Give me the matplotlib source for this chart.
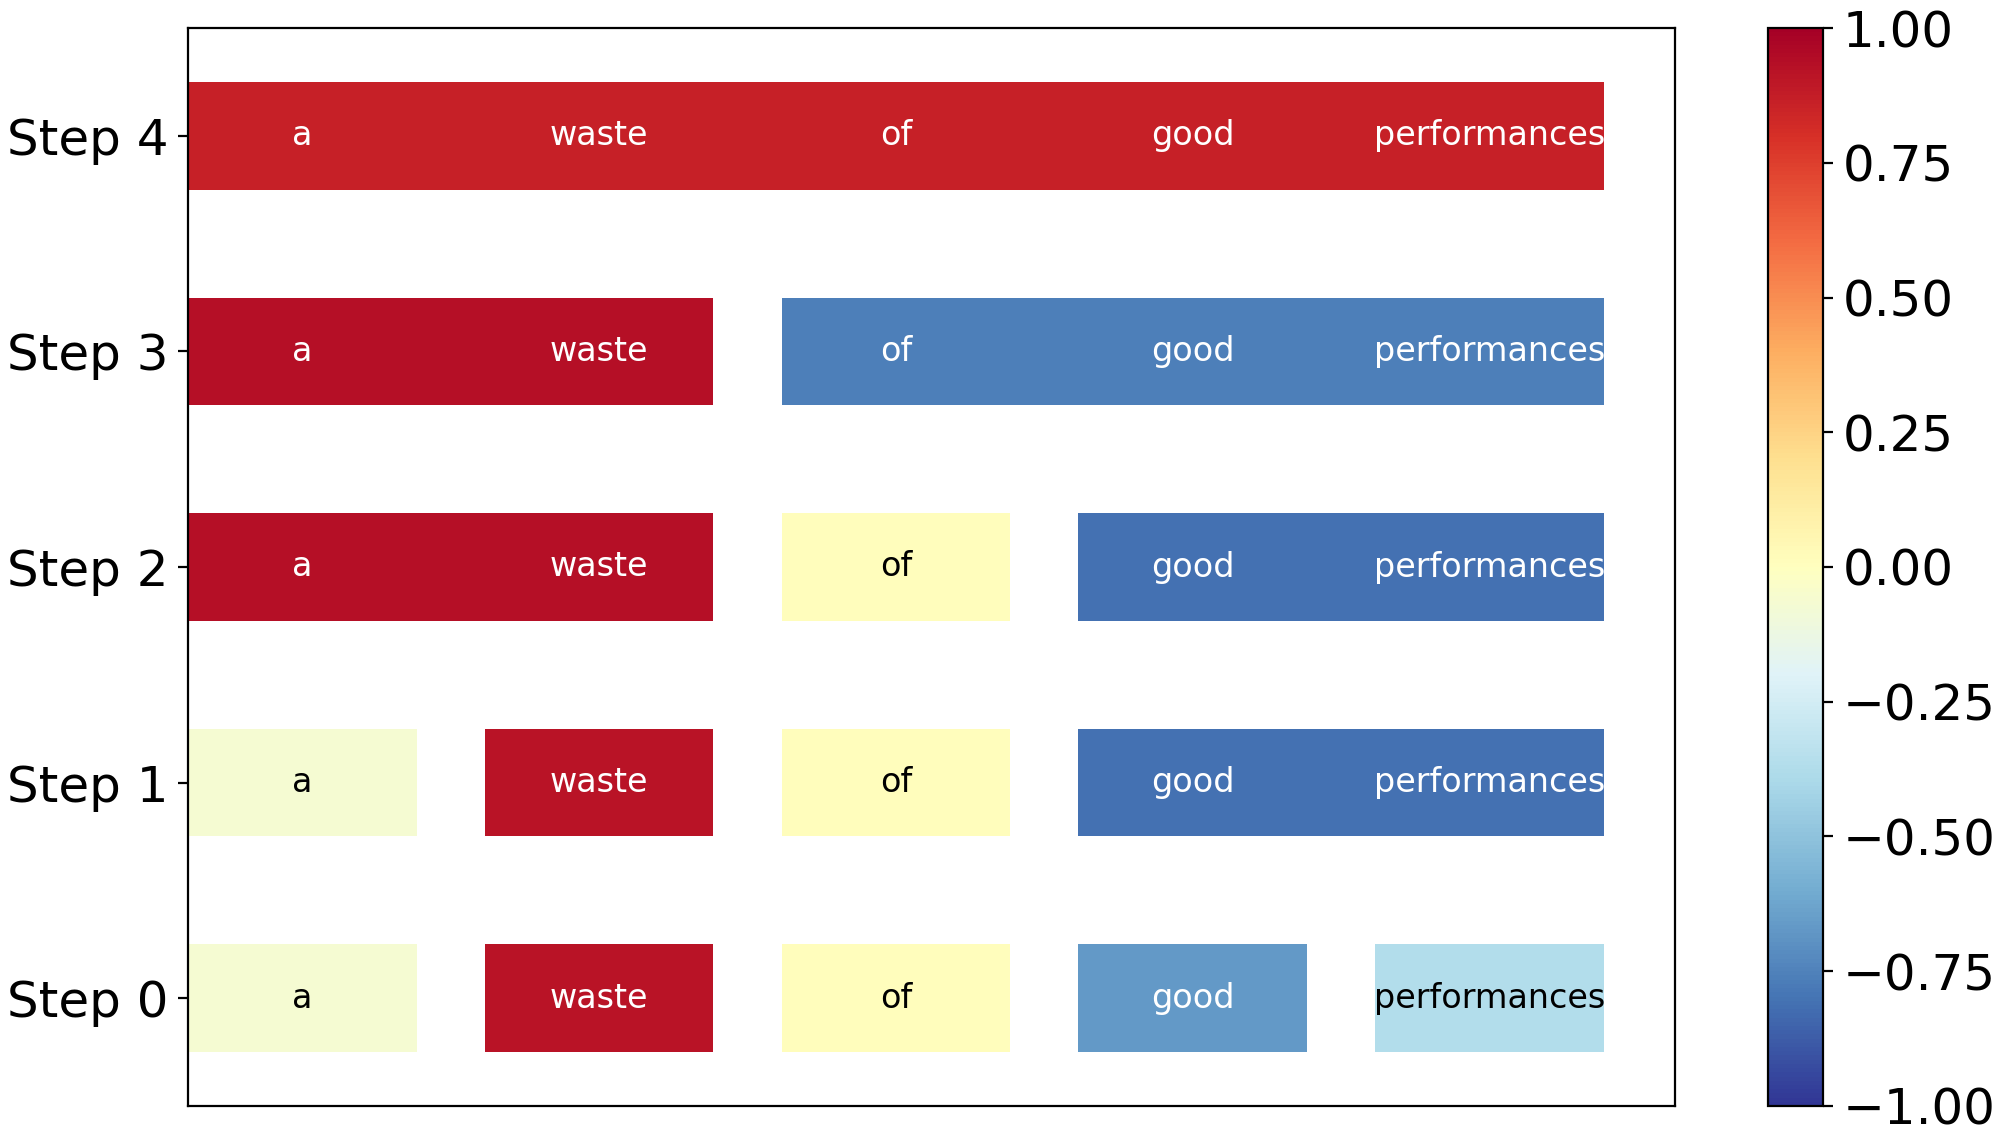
import numpy as np
import matplotlib
matplotlib.use("Agg")
import matplotlib.pyplot as plt
from matplotlib.colors import Normalize
from matplotlib.cm import ScalarMappable

# Tokens and per-step segments: (start token, end token exclusive, score)
tokens = ["a", "waste", "of", "good", "performances"]
step_labels = ["Step 0", "Step 1", "Step 2", "Step 3", "Step 4"]

step0 = [(0, 1, -0.07), (1, 2, 0.92), (2, 3, 0.01), (3, 4, -0.67), (4, 5, -0.37)]
step1 = [(0, 1, -0.07), (1, 2, 0.92), (2, 3, 0.01), (3, 5, -0.81)]
step2 = [(0, 2, 0.93), (2, 3, 0.01), (3, 5, -0.81)]
step3 = [(0, 2, 0.93), (2, 5, -0.76)]
step4 = [(0, 5, 0.86)]
steps = [step0, step1, step2, step3, step4]

cmap = plt.get_cmap("RdYlBu_r")
norm = Normalize(vmin=-1, vmax=1)

fig = plt.figure(figsize=(10, 5.67), dpi=200)
ax = fig.add_axes([0.094, 0.0247, 0.7435, 0.9506])
cax = fig.add_axes([0.884, 0.0247, 0.0275, 0.9506])

bar_w = 0.77
for row, segs in enumerate(steps):
    for start, end, score in segs:
        width = (end - start - 1) + bar_w
        ax.barh(row, width, left=start, height=0.5, color=cmap(norm(score)),
                align="center")
        txt_color = "white" if abs(score) > 0.5 else "black"
        for t in range(start, end):
            ax.text(t + bar_w / 2, row, tokens[t], ha="center", va="center",
                    fontsize=12, color=txt_color)

ax.set_xlim(0, 5.01)
ax.set_ylim(-0.5, 4.5)
ax.set_yticks(range(len(step_labels)))
ax.set_yticklabels(step_labels, fontsize=18)
ax.set_xticks([])

sm = ScalarMappable(norm=norm, cmap=cmap)
cb = fig.colorbar(sm, cax=cax)
cb.set_ticks([-1, -0.75, -0.5, -0.25, 0, 0.25, 0.5, 0.75, 1])
cb.ax.tick_params(labelsize=18)
cb.ax.yaxis.set_major_formatter(
    matplotlib.ticker.FuncFormatter(lambda v, p: f"{v:.2f}".replace("-", "\u2212")))

fig.savefig("out.png", dpi=200)
